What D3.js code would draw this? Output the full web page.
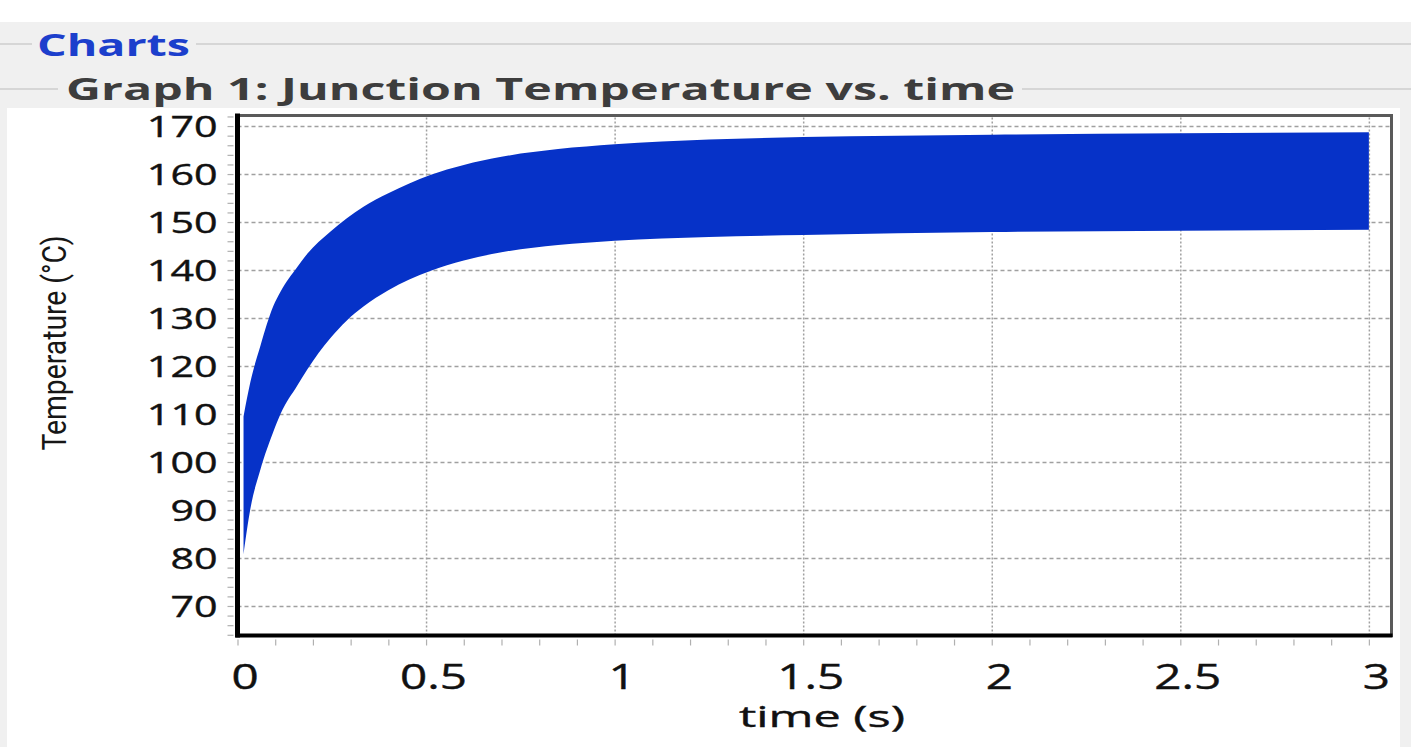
<!DOCTYPE html>
<html>
<head>
<meta charset="utf-8">
<script src="https://cdn.jsdelivr.net/npm/d3@7"></script>
<style>
  body { margin: 0; background: #fff; }
  text { font-family: "Open Sans", sans-serif; }
</style>
</head>
<body>
<div id="chart"></div>
<script>
// envelope of the junction temperature band
var timeS = [0.016, 0.034, 0.061, 0.095, 0.114, 0.159, 0.185, 0.246, 0.29, 0.334, 0.40, 0.511, 0.60, 0.70, 0.85, 1.0, 1.25, 1.5, 2.0, 2.5, 3.0];
var tempUpper = [109.5, 116.6, 124.3, 132.5, 135.5, 140.7, 143.4, 148.0, 150.8, 153.2, 156.0, 159.8, 161.9, 163.6, 165.2, 166.2, 167.2, 167.7, 168.2, 168.5, 168.7];
var tempLower = [80.8, 90.2, 98.5, 106.3, 110.0, 116.0, 119.3, 125.8, 129.5, 132.4, 135.8, 139.8, 142.0, 143.7, 145.2, 146.1, 146.9, 147.3, 147.9, 148.2, 148.4];

var yTicks = [70, 80, 90, 100, 110, 120, 130, 140, 150, 160, 170];
var xTicks = [0, 0.5, 1, 1.5, 2, 2.5, 3];
var xTickLabels = ["0", "0.5", "1", "1.5", "2", "2.5", "3"];

var W = 1411, H = 747;
var margin = { top: 115.5, left: 237.5 };
var width = 1154, height = 520;

var svg = d3.select("#chart").append("svg")
    .attr("width", W).attr("height", H);

// window chrome
svg.append("rect").attr("x", 0).attr("y", 22).attr("width", W).attr("height", 86).attr("fill", "#f0f0f0");
svg.append("rect").attr("x", 0).attr("y", 108).attr("width", 7).attr("height", H - 108).attr("fill", "#f0f0f0");
svg.append("rect").attr("x", 1400).attr("y", 108).attr("width", 11).attr("height", H - 108).attr("fill", "#f0f0f0");

svg.append("line").attr("x1", 0).attr("x2", 32).attr("y1", 44).attr("y2", 44).attr("stroke", "#d6d6d6").attr("stroke-width", 2);
svg.append("line").attr("x1", 196).attr("x2", W).attr("y1", 44).attr("y2", 44).attr("stroke", "#d6d6d6").attr("stroke-width", 2);
svg.append("line").attr("x1", 0).attr("x2", 58).attr("y1", 89).attr("y2", 89).attr("stroke", "#d6d6d6").attr("stroke-width", 2);
svg.append("line").attr("x1", 1022).attr("x2", W).attr("y1", 89).attr("y2", 89).attr("stroke", "#d6d6d6").attr("stroke-width", 2);

svg.append("text").attr("x", 37).attr("y", 56)
    .attr("font-size", 30).attr("font-weight", "bold").attr("fill", "#1c3fcc")
    .attr("textLength", 153).attr("lengthAdjust", "spacingAndGlyphs")
    .text("Charts");

svg.append("text").attr("x", 66).attr("y", 100)
    .attr("font-size", 31).attr("font-weight", "bold").attr("fill", "#3d3d3d")
    .attr("textLength", 949).attr("lengthAdjust", "spacingAndGlyphs")
    .text("Graph 1: Junction Temperature vs. time");

var g = svg.append("g").attr("transform", "translate(" + margin.left + "," + margin.top + ")");

var x = d3.scaleLinear().domain([0, 3.06]).range([0, width]);
var y = d3.scaleLinear().domain([63.85, 172.2]).range([height, 0]);

// widen text the way the screenshot is stretched
function stretch(sel, k) {
    sel.each(function () {
        var w = this.getComputedTextLength();
        d3.select(this).attr("textLength", w * k).attr("lengthAdjust", "spacingAndGlyphs");
    });
}

// grid
g.append("g")
    .attr("class", "ygrid")
    .call(d3.axisLeft(y).tickValues(yTicks).tickSize(-width).tickFormat(""))
    .call(function (s) { s.select(".domain").remove(); })
    .selectAll("line")
    .attr("stroke", "#a0a0a0").attr("stroke-width", 1.5).attr("stroke-dasharray", "4,3");

g.append("g")
    .attr("class", "xgrid")
    .attr("transform", "translate(0," + height + ")")
    .call(d3.axisBottom(x).tickValues(xTicks.slice(1)).tickSize(-height).tickFormat(""))
    .call(function (s) { s.select(".domain").remove(); })
    .selectAll("line")
    .attr("stroke", "#a0a0a0").attr("stroke-width", 1.5).attr("stroke-dasharray", "2,2");

// temperature band
var area = d3.area()
    .x(function (d, i) { return x(timeS[i]); })
    .y0(function (d, i) { return y(tempLower[i]); })
    .y1(function (d, i) { return y(tempUpper[i]); })
    .curve(d3.curveMonotoneX);

g.append("path")
    .datum(timeS)
    .attr("d", area)
    .attr("fill", "#0632c8");

// frame
g.append("rect").attr("x", 0).attr("y", 0).attr("width", width).attr("height", height)
    .attr("fill", "none").attr("stroke", "#5a5a5a").attr("stroke-width", 3);

// minor ticks
g.append("g")
    .attr("transform", "translate(-4,0)")
    .call(d3.axisLeft(y).tickValues(d3.range(64, 173, 2)).tickSize(6).tickFormat(""))
    .call(function (s) { s.select(".domain").remove(); })
    .selectAll("line").attr("stroke", "#b0b0b0").attr("stroke-width", 1.2);

g.append("g")
    .attr("transform", "translate(0," + (height + 4) + ")")
    .call(d3.axisBottom(x).tickValues(d3.range(0, 31).map(function (i) { return i / 10; })).tickSize(6).tickFormat(""))
    .call(function (s) { s.select(".domain").remove(); })
    .selectAll("line").attr("stroke", "#b0b0b0").attr("stroke-width", 1.2);

// main axis lines
g.append("line").attr("x1", 0).attr("x2", 0).attr("y1", -2).attr("y2", height + 2)
    .attr("stroke", "#000").attr("stroke-width", 5);
g.append("line").attr("x1", -2).attr("x2", width + 1).attr("y1", height).attr("y2", height)
    .attr("stroke", "#000").attr("stroke-width", 4);

// tick labels
var yAx = g.append("g")
    .call(d3.axisLeft(y).tickValues(yTicks).tickSize(0).tickPadding(20))
    .call(function (s) { s.select(".domain").remove(); });
yAx.selectAll("text")
    .attr("font-family", "Open Sans").attr("font-size", 29).attr("fill", "#111")
    .attr("stroke", "#111").attr("stroke-width", 0.4)
    .attr("dy", "0.36em")
    .call(stretch, 1.42);

var xAx = g.append("g")
    .attr("transform", "translate(0," + height + ")")
    .call(d3.axisBottom(x).tickValues(xTicks).tickSize(0).tickPadding(29)
        .tickFormat(function (d, i) { return xTickLabels[i]; }))
    .call(function (s) { s.select(".domain").remove(); });
xAx.selectAll("text")
    .attr("font-family", "Open Sans").attr("font-size", 34).attr("fill", "#111")
    .attr("stroke", "#111").attr("stroke-width", 0.4)
    .attr("dx", 7)
    .call(stretch, 1.4);

// axis titles
svg.append("text")
    .attr("x", 822).attr("y", 727)
    .attr("text-anchor", "middle")
    .attr("font-size", 30).attr("fill", "#111")
    .attr("stroke", "#111").attr("stroke-width", 0.4)
    .attr("textLength", 166).attr("lengthAdjust", "spacingAndGlyphs")
    .text("time (s)");

svg.append("text")
    .attr("transform", "translate(66,343) rotate(-90)")
    .attr("text-anchor", "middle")
    .style("font-family", "'Liberation Sans Narrow', 'Roboto', sans-serif")
    .attr("font-size", 34).attr("fill", "#161616")
    .attr("textLength", 215).attr("lengthAdjust", "spacingAndGlyphs")
    .text("Temperature (°C)");
</script>
</body>
</html>
